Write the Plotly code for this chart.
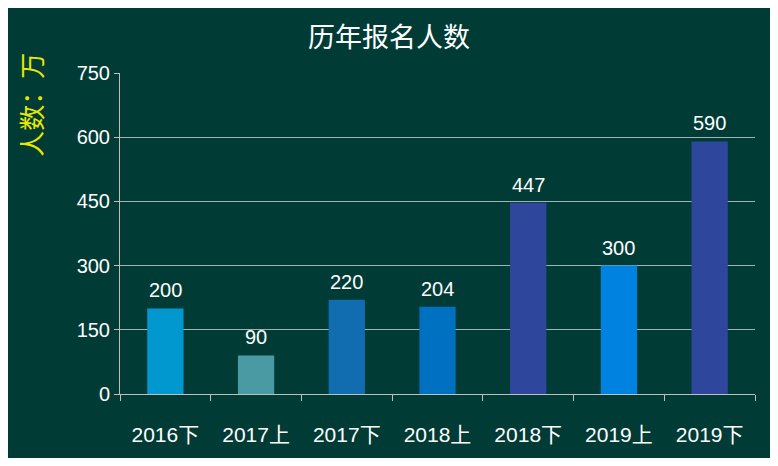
import plotly.graph_objects as go

categories = ["2016下", "2017上", "2017下", "2018上", "2018下", "2019上", "2019下"]
values = [200, 90, 220, 204, 447, 300, 590]
colors = ["#0098CF", "#4A9AA3", "#116CB0", "#0070C0", "#2E479C", "#0083E0", "#2E479C"]
y_ticks = [0, 150, 300, 450, 600, 750]

bg = "#003B36"
font_family = "Liberation Sans, Noto Sans CJK SC"

fig = go.Figure(go.Bar(
    x=categories, y=values, marker_color=colors, marker_line_width=0, width=0.4,
))

# value labels a little above each bar
for c, v in zip(categories, values):
    fig.add_annotation(x=c, y=v, text=str(v), showarrow=False, yanchor="bottom",
                       yshift=5, font=dict(color="white", size=20))

fig.update_layout(
    width=762, height=450,
    paper_bgcolor=bg, plot_bgcolor=bg,
    margin=dict(l=112, r=15, t=65, b=54),
    font=dict(family=font_family, color="white"),
    title=dict(text="历年报名人数", x=0.5, y=0.955, xanchor="center",
               font=dict(size=27, color="white")),
    showlegend=False,
)
fig.update_xaxes(
    showline=True, linecolor="#BFBFBF", tickson="boundaries", ticks="outside",
    ticklen=6, tickcolor="#BFBFBF", ticklabelstandoff=22,
    tickfont=dict(size=21, color="white"), showgrid=False,
)
fig.update_yaxes(
    range=[0, 750], tickvals=y_ticks, showline=True, linecolor="#BFBFBF",
    gridcolor="#9FB5B2", gridwidth=1, zeroline=False,
    tickfont=dict(size=20, color="white"), ticks="outside", ticklen=5,
    tickcolor="#BFBFBF",
)
fig.add_annotation(
    text="人数：万", xref="paper", yref="paper", x=-0.165, y=1.07,
    yanchor="top", textangle=-90, showarrow=False,
    font=dict(size=26, color="#E8E800"),
)

fig.write_html("out.html")
